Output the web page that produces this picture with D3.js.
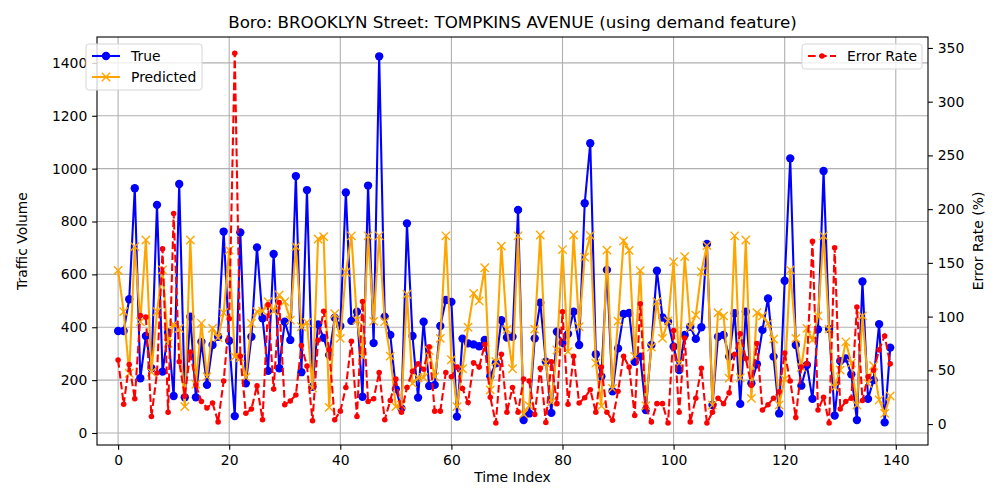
<html>
<head>
    <script src="https://d3js.org/d3.v7.min.js"></script>
    <style>
        body { margin: 0; background: #fff; }
        svg text { font-family: "DejaVu Sans", sans-serif; fill: #000; }
        .tick text { font-size: 13.9px; }
        .tick line { stroke: #000; stroke-width: 1.1; }
        .domain { display: none; }
        .grid line { stroke: #b0b0b0; stroke-width: 1.1; }
    </style>
</head>
<body>
<script>
    var trueVals = [386, 386, 506, 926, 207, 367, 245, 863, 232, 380,
        140, 942, 135, 440, 135, 345, 182, 333, 364, 762,
        349, 64, 759, 188, 364, 702, 434, 235, 677, 245,
        421, 352, 972, 230, 919, 175, 411, 360, 295, 436,
        405, 910, 424, 459, 137, 936, 340, 1425, 440, 371,
        166, 93, 793, 367, 134, 421, 178, 182, 405, 503,
        496, 62, 357, 339, 335, 328, 352, 215, 264, 427,
        361, 364, 844, 49, 74, 358, 493, 270, 76, 383,
        340, 375, 459, 333, 869, 1096, 298, 214, 617, 158,
        320, 450, 454, 269, 289, 87, 333, 614, 437, 421,
        327, 238, 371, 402, 356, 400, 715, 106, 364, 371,
        289, 453, 110, 459, 188, 260, 390, 509, 289, 74,
        576, 1039, 333, 179, 257, 129, 392, 991, 393, 66,
        272, 282, 222, 49, 573, 129, 200, 412, 40, 323];

    var predVals = [615, 459, 226, 705, 421, 730, 230, 459, 617, 339,
        411, 396, 100, 730, 184, 415, 213, 396, 361, 455,
        692, 289, 285, 211, 415, 459, 461, 497, 461, 522,
        497, 427, 705, 402, 418, 170, 734, 743, 97, 451,
        358, 608, 746, 427, 289, 746, 422, 746, 421, 291,
        100, 106, 525, 188, 209, 210, 312, 213, 358, 746,
        277, 100, 243, 400, 528, 500, 625, 163, 270, 707,
        392, 243, 746, 72, 103, 393, 749, 264, 117, 314,
        694, 308, 749, 402, 665, 747, 264, 102, 692, 169,
        423, 727, 691, 290, 614, 103, 325, 497, 358, 424,
        648, 264, 667, 398, 446, 610, 709, 106, 455, 443,
        207, 746, 209, 730, 131, 455, 443, 415, 355, 106,
        204, 617, 358, 248, 396, 352, 443, 746, 393, 173,
        238, 345, 264, 106, 443, 188, 255, 125, 74, 140];

    var errorVals = [59.6, 18.5, 55.5, 23.5, 101, 99.5, 7, 47.5, 163, 11,
        196, 58, 26, 67, 36.5, 21, 15, 19.5, 2, 40,
        98, 345, 63, 10, 14, 35.5, 4, 111, 32.5, 113,
        18, 21.5, 27, 73, 54, 3, 78, 105, 69, 4,
        12, 34, 77, 7, 114, 21, 23.5, 48, 4, 22,
        42, 11, 34, 49, 56, 51, 72, 12, 12, 48,
        44, 53, 33, 20, 57, 53, 74, 25, 1, 65,
        11, 34, 11, 42, 40, 9, 52, 1.5, 58, 19,
        104.5, 18.5, 63, 19.5, 24.5, 32, 11, 53, 11, 3.5,
        30.5, 63, 53, 8, 112, 16, 2, 19, 19, 1,
        87, 11, 80, 2, 24, 52, 1, 11, 24, 19,
        29, 65, 84, 61, 36, 75, 13, 18, 24, 30,
        66, 40, 6, 53, 56, 170, 13, 25, 1, 164,
        14, 21, 24, 109, 22, 44, 50, 69, 82, 56];

    var xTicks = [0, 20, 40, 60, 80, 100, 120, 140];
    var yTicks = [0, 200, 400, 600, 800, 1000, 1200, 1400];
    var y2Ticks = [0, 50, 100, 150, 200, 250, 300, 350];

    var titleText = "Boro: BROOKLYN Street: TOMPKINS AVENUE (using demand feature)";

    var width = 1000,
        height = 500,
        margin = {top: 37, right: 72, bottom: 55, left: 97};
    var w = width - margin.left - margin.right,
        h = height - margin.top - margin.bottom;

    var x = d3.scaleLinear().domain([-3.8, 145.8]).range([0, w]);
    var y = d3.scaleLinear().domain([-45.4, 1498]).range([h, 0]);
    var y2 = d3.scaleLinear().domain([-19.5, 360.2]).range([h, 0]);

    var svg = d3.select("body").append("svg")
        .attr("width", width)
        .attr("height", height);

    svg.append("rect").attr("width", width).attr("height", height).attr("fill", "#fff");

    var g = svg.append("g")
        .attr("transform", "translate(" + margin.left + "," + margin.top + ")");

    // grid
    var grid = g.append("g").attr("class", "grid");
    grid.selectAll(".gx").data(xTicks).enter().append("line")
        .attr("x1", function (d) { return x(d); })
        .attr("x2", function (d) { return x(d); })
        .attr("y1", 0).attr("y2", h);
    grid.selectAll(".gy").data(yTicks).enter().append("line")
        .attr("x1", 0).attr("x2", w)
        .attr("y1", function (d) { return y(d); })
        .attr("y2", function (d) { return y(d); });

    var idx = d3.range(trueVals.length);

    var line1 = d3.line()
        .x(function (d) { return x(d); })
        .y(function (d) { return y(trueVals[d]); });
    var line2 = d3.line()
        .x(function (d) { return x(d); })
        .y(function (d) { return y(predVals[d]); });
    var line3 = d3.line()
        .x(function (d) { return x(d); })
        .y(function (d) { return y2(errorVals[d]); });

    var plot = g.append("g");

    // True
    plot.append("path").datum(idx)
        .attr("d", line1)
        .attr("fill", "none")
        .attr("stroke", "blue")
        .attr("stroke-width", 2.08);
    plot.selectAll(".dotTrue").data(idx).enter().append("circle")
        .attr("cx", function (d) { return x(d); })
        .attr("cy", function (d) { return y(trueVals[d]); })
        .attr("r", 4.17)
        .attr("fill", "blue");

    // Predicted
    plot.append("path").datum(idx)
        .attr("d", line2)
        .attr("fill", "none")
        .attr("stroke", "orange")
        .attr("stroke-width", 2.08);
    var xm = 4.17;
    plot.selectAll(".xPred").data(idx).enter().append("path")
        .attr("d", function (d) {
            var cx = x(d), cy = y(predVals[d]);
            return "M" + (cx - xm) + "," + (cy - xm) + "L" + (cx + xm) + "," + (cy + xm) +
                "M" + (cx - xm) + "," + (cy + xm) + "L" + (cx + xm) + "," + (cy - xm);
        })
        .attr("stroke", "orange")
        .attr("stroke-width", 1.39);

    // Error rate on second axis
    plot.append("path").datum(idx)
        .attr("d", line3)
        .attr("fill", "none")
        .attr("stroke", "red")
        .attr("stroke-width", 2.08)
        .attr("stroke-dasharray", "7.7,3.3");
    plot.selectAll(".dotErr").data(idx).enter().append("circle")
        .attr("cx", function (d) { return x(d); })
        .attr("cy", function (d) { return y2(errorVals[d]); })
        .attr("r", 2.78)
        .attr("fill", "red");

    // axes
    var fmt = d3.format("d");
    g.append("g")
        .attr("transform", "translate(0," + h + ")")
        .call(d3.axisBottom(x).tickValues(xTicks).tickFormat(fmt)
            .tickSizeInner(4.86).tickSizeOuter(0).tickPadding(4.86));
    g.append("g")
        .call(d3.axisLeft(y).tickValues(yTicks).tickFormat(fmt)
            .tickSizeInner(4.86).tickSizeOuter(0).tickPadding(4.86));
    g.append("g")
        .attr("transform", "translate(" + w + ",0)")
        .call(d3.axisRight(y2).tickValues(y2Ticks).tickFormat(fmt)
            .tickSizeInner(4.86).tickSizeOuter(0).tickPadding(4.86));

    g.selectAll(".tick text").attr("font-family", "DejaVu Sans");

    // frame
    g.append("rect")
        .attr("width", w).attr("height", h)
        .attr("fill", "none")
        .attr("stroke", "#000")
        .attr("stroke-width", 1.1);

    // labels
    svg.append("text")
        .attr("x", margin.left + w / 2).attr("y", 28)
        .attr("text-anchor", "middle")
        .style("font-size", "16.7px")
        .text(titleText);
    svg.append("text")
        .attr("x", margin.left + w / 2).attr("y", 482)
        .attr("text-anchor", "middle")
        .style("font-size", "13.9px")
        .text("Time Index");
    svg.append("text")
        .attr("transform", "translate(27," + (margin.top + h / 2) + ") rotate(-90)")
        .attr("text-anchor", "middle")
        .style("font-size", "13.9px")
        .text("Traffic Volume");
    svg.append("text")
        .attr("transform", "translate(983," + (margin.top + h / 2) + ") rotate(-90)")
        .attr("text-anchor", "middle")
        .style("font-size", "13.9px")
        .text("Error Rate (%)");

    // legends
    var leg1 = g.append("g").attr("transform", "translate(-11,7)");
    leg1.append("rect")
        .attr("width", 116).attr("height", 46).attr("rx", 3)
        .attr("fill", "#fff").attr("fill-opacity", 0.8)
        .attr("stroke", "#d6d6d6");
    leg1.append("line").attr("x1", 6).attr("x2", 34).attr("y1", 12).attr("y2", 12)
        .attr("stroke", "blue").attr("stroke-width", 2.08);
    leg1.append("circle").attr("cx", 20).attr("cy", 12).attr("r", 4.17).attr("fill", "blue");
    leg1.append("text").attr("x", 45).attr("y", 17).style("font-size", "13.9px").text("True");
    leg1.append("line").attr("x1", 6).attr("x2", 34).attr("y1", 33).attr("y2", 33)
        .attr("stroke", "orange").attr("stroke-width", 2.08);
    leg1.append("path")
        .attr("d", "M" + (20 - xm) + "," + (33 - xm) + "L" + (20 + xm) + "," + (33 + xm) +
            "M" + (20 - xm) + "," + (33 + xm) + "L" + (20 + xm) + "," + (33 - xm))
        .attr("stroke", "orange").attr("stroke-width", 1.39);
    leg1.append("text").attr("x", 45).attr("y", 38).style("font-size", "13.9px").text("Predicted");

    var leg2 = g.append("g").attr("transform", "translate(" + (w - 126) + ",7)");
    leg2.append("rect")
        .attr("width", 120).attr("height", 25).attr("rx", 3)
        .attr("fill", "#fff").attr("fill-opacity", 0.8)
        .attr("stroke", "#d6d6d6");
    leg2.append("line").attr("x1", 6).attr("x2", 34).attr("y1", 12).attr("y2", 12)
        .attr("stroke", "red").attr("stroke-width", 2.08).attr("stroke-dasharray", "7.7,3.3");
    leg2.append("circle").attr("cx", 20).attr("cy", 12).attr("r", 2.78).attr("fill", "red");
    leg2.append("text").attr("x", 45).attr("y", 17).style("font-size", "13.9px").text("Error Rate");
</script>
</body>
</html>
